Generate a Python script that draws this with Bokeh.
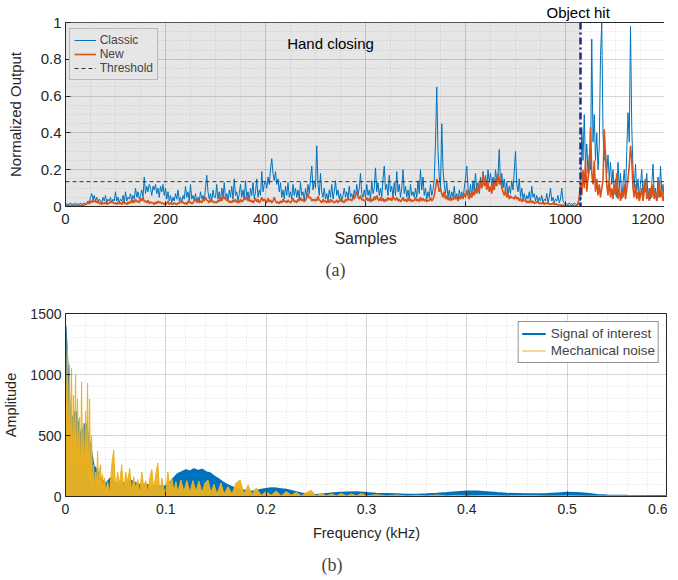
from bokeh.plotting import figure
from bokeh.layouts import column
from bokeh.models import (Span, Label, Legend, LegendItem, FixedTicker,
                          SingleIntervalTicker, NumeralTickFormatter, Range1d, Title)
from bokeh.embed import file_html
from bokeh.resources import INLINE

# ---------------- data: panel (a) ----------------
SAMPLE_STEP = 2.5
classic = [
    0.02, 0.01, 0.015, 0.01, 0.02, 0.01, 0.015, 0.01, 0.02, 0.01,
    0.015, 0.01, 0.02, 0.01, 0.015, 0.02, 0.01, 0.02, 0.03, 0.02,
    0.05, 0.07, 0.04, 0.06, 0.03, 0.05, 0.02, 0.04, 0.03, 0.02,
    0.05, 0.03, 0.06, 0.02, 0.04, 0.03, 0.05, 0.02, 0.04, 0.03,
    0.08, 0.03, 0.05, 0.02, 0.04, 0.03, 0.06, 0.02, 0.08, 0.03,
    0.05, 0.04, 0.07, 0.03, 0.06, 0.04, 0.10, 0.05, 0.08, 0.04,
    0.06, 0.09, 0.05, 0.16, 0.07, 0.11, 0.08, 0.12, 0.10, 0.06,
    0.11, 0.09, 0.12, 0.07, 0.10, 0.05, 0.11, 0.08, 0.12, 0.06,
    0.10, 0.04, 0.08, 0.03, 0.06, 0.02, 0.05, 0.03, 0.07, 0.04,
    0.09, 0.03, 0.05, 0.02, 0.06, 0.04, 0.11, 0.05, 0.08, 0.03,
    0.12, 0.04, 0.06, 0.03, 0.07, 0.02, 0.05, 0.03, 0.08, 0.04,
    0.06, 0.03, 0.10, 0.17, 0.08, 0.04, 0.07, 0.03, 0.09, 0.05,
    0.05, 0.12, 0.04, 0.08, 0.03, 0.10, 0.05, 0.13, 0.04, 0.07,
    0.03, 0.09, 0.05, 0.11, 0.04, 0.15, 0.06, 0.08, 0.03, 0.07,
    0.12, 0.05, 0.09, 0.04, 0.14, 0.05, 0.08, 0.03, 0.10, 0.06,
    0.13, 0.04, 0.08, 0.15, 0.05, 0.09, 0.06, 0.19, 0.08, 0.12,
    0.14, 0.10, 0.16, 0.12, 0.20, 0.26, 0.18, 0.14, 0.19, 0.12,
    0.15, 0.08, 0.13, 0.05, 0.09, 0.04, 0.11, 0.06, 0.13, 0.05,
    0.08, 0.04, 0.12, 0.06, 0.10, 0.05, 0.09, 0.04, 0.13, 0.06,
    0.08, 0.03, 0.10, 0.05, 0.12, 0.07, 0.15, 0.22, 0.09, 0.14,
    0.10, 0.33, 0.12, 0.06, 0.18, 0.08, 0.05, 0.10, 0.04, 0.07,
    0.03, 0.09, 0.05, 0.12, 0.04, 0.08, 0.14, 0.06, 0.09, 0.04,
    0.07, 0.03, 0.06, 0.10, 0.05, 0.08, 0.04, 0.11, 0.05, 0.07,
    0.04, 0.09, 0.05, 0.12, 0.06, 0.10, 0.18, 0.07, 0.05, 0.09,
    0.05, 0.12, 0.06, 0.09, 0.04, 0.14, 0.07, 0.10, 0.21, 0.08,
    0.13, 0.06, 0.10, 0.05, 0.15, 0.22, 0.09, 0.12, 0.06, 0.17,
    0.08, 0.11, 0.05, 0.13, 0.06, 0.19, 0.08, 0.12, 0.05, 0.10,
    0.20, 0.07, 0.11, 0.05, 0.09, 0.04, 0.12, 0.06, 0.08, 0.05,
    0.10, 0.05, 0.14, 0.07, 0.20, 0.09, 0.16, 0.06, 0.10, 0.04,
    0.08, 0.05, 0.12, 0.06, 0.09, 0.15, 0.35, 0.65, 0.30, 0.16,
    0.10, 0.45, 0.20, 0.12, 0.07, 0.13, 0.05, 0.09, 0.04, 0.08,
    0.05, 0.11, 0.04, 0.07, 0.03, 0.09, 0.05, 0.08, 0.04, 0.10,
    0.15, 0.22, 0.10, 0.06, 0.12, 0.05, 0.14, 0.08, 0.18, 0.09,
    0.13, 0.07, 0.16, 0.10, 0.19, 0.12, 0.17, 0.10, 0.20, 0.13,
    0.18, 0.11, 0.16, 0.09, 0.20, 0.14, 0.17, 0.31, 0.12, 0.18,
    0.10, 0.15, 0.08, 0.13, 0.06, 0.11, 0.07, 0.14, 0.09, 0.19,
    0.30, 0.12, 0.08, 0.15, 0.05, 0.10, 0.04, 0.07, 0.03, 0.06,
    0.04, 0.08, 0.03, 0.11, 0.05, 0.07, 0.03, 0.06, 0.02, 0.05,
    0.03, 0.06, 0.02, 0.04, 0.03, 0.07, 0.02, 0.05, 0.10, 0.03,
    0.05, 0.02, 0.04, 0.03, 0.06, 0.02, 0.04, 0.10, 0.03, 0.02,
    0.01, 0.015, 0.01, 0.02, 0.01, 0.015, 0.01, 0.02, 0.015, 0.01,
    0.02, 0.05, 0.03, 0.43, 0.25, 0.50, 0.22, 0.34, 0.18, 0.28,
    0.20, 0.91, 0.35, 0.50, 0.25, 0.40, 0.20, 0.33, 0.82, 1.00,
    0.40, 0.25, 0.30, 0.18, 0.28, 0.15, 0.24, 0.12, 0.20, 0.08,
    0.15, 0.05, 0.24, 0.10, 0.18, 0.04, 0.12, 0.20, 0.07, 0.30,
    0.51, 0.35, 0.98, 0.43, 0.20, 0.10, 0.23, 0.08, 0.15, 0.05,
    0.12, 0.20, 0.06, 0.14, 0.08, 0.18, 0.05, 0.10, 0.04, 0.12,
    0.23, 0.06, 0.10, 0.03, 0.16, 0.05, 0.22, 0.08, 0.12, 0.04,
    0.06,
]
new = [
    0.005, 0.004, 0.005, 0.004, 0.005, 0.006, 0.004, 0.005, 0.006, 0.005,
    0.005, 0.006, 0.005, 0.007, 0.006, 0.008, 0.01, 0.015, 0.02, 0.015,
    0.03, 0.02, 0.04, 0.025, 0.03, 0.02, 0.035, 0.015, 0.02, 0.01,
    0.02, 0.015, 0.025, 0.01, 0.02, 0.015, 0.03, 0.02, 0.025, 0.015,
    0.02, 0.01, 0.025, 0.015, 0.02, 0.01, 0.03, 0.015, 0.02, 0.01,
    0.025, 0.015, 0.03, 0.02, 0.035, 0.02, 0.04, 0.025, 0.03, 0.02,
    0.045, 0.03, 0.05, 0.025, 0.03, 0.02, 0.035, 0.015, 0.025, 0.02,
    0.02, 0.01, 0.025, 0.015, 0.03, 0.02, 0.025, 0.015, 0.02, 0.01,
    0.02, 0.015, 0.03, 0.01, 0.02, 0.015, 0.01, 0.02, 0.015, 0.01,
    0.02, 0.015, 0.03, 0.02, 0.025, 0.015, 0.02, 0.01, 0.03, 0.02,
    0.025, 0.015, 0.02, 0.03, 0.04, 0.025, 0.035, 0.02, 0.03, 0.02,
    0.04, 0.03, 0.05, 0.035, 0.03, 0.02, 0.04, 0.025, 0.03, 0.02,
    0.025, 0.02, 0.035, 0.025, 0.05, 0.03, 0.06, 0.04, 0.05, 0.03,
    0.04, 0.02, 0.03, 0.02, 0.035, 0.025, 0.04, 0.02, 0.03, 0.02,
    0.04, 0.025, 0.03, 0.05, 0.035, 0.06, 0.03, 0.04, 0.025, 0.035,
    0.02, 0.03, 0.045, 0.025, 0.04, 0.02, 0.03, 0.05, 0.03, 0.04,
    0.03, 0.02, 0.045, 0.025, 0.035, 0.02, 0.03, 0.05, 0.03, 0.02,
    0.025, 0.015, 0.03, 0.02, 0.04, 0.025, 0.03, 0.02, 0.035, 0.025,
    0.02, 0.03, 0.045, 0.025, 0.03, 0.02, 0.04, 0.03, 0.05, 0.03,
    0.04, 0.025, 0.035, 0.05, 0.07, 0.045, 0.05, 0.03, 0.04, 0.03,
    0.04, 0.03, 0.055, 0.035, 0.03, 0.02, 0.04, 0.025, 0.03, 0.02,
    0.035, 0.02, 0.04, 0.025, 0.03, 0.02, 0.025, 0.035, 0.02, 0.03,
    0.04, 0.025, 0.03, 0.02, 0.04, 0.03, 0.05, 0.035, 0.04, 0.03,
    0.05, 0.04, 0.065, 0.08, 0.05, 0.04, 0.06, 0.035, 0.04, 0.03,
    0.035, 0.05, 0.03, 0.045, 0.025, 0.04, 0.03, 0.055, 0.035, 0.06,
    0.04, 0.03, 0.05, 0.03, 0.045, 0.025, 0.04, 0.03, 0.05, 0.035,
    0.045, 0.03, 0.06, 0.04, 0.035, 0.05, 0.03, 0.04, 0.025, 0.035,
    0.05, 0.03, 0.04, 0.025, 0.045, 0.03, 0.04, 0.025, 0.035, 0.03,
    0.05, 0.03, 0.04, 0.025, 0.05, 0.03, 0.045, 0.03, 0.04, 0.025,
    0.035, 0.03, 0.05, 0.03, 0.04, 0.06, 0.10, 0.15, 0.12, 0.08,
    0.10, 0.07, 0.05, 0.08, 0.04, 0.06, 0.035, 0.05, 0.03, 0.045,
    0.035, 0.06, 0.04, 0.05, 0.03, 0.055, 0.04, 0.06, 0.045, 0.07,
    0.05, 0.09, 0.06, 0.04, 0.07, 0.05, 0.08, 0.06, 0.10, 0.07,
    0.12, 0.08, 0.14, 0.10, 0.18, 0.11, 0.15, 0.09, 0.13, 0.08,
    0.11, 0.07, 0.12, 0.09, 0.15, 0.11, 0.18, 0.12, 0.16, 0.10,
    0.08, 0.06, 0.09, 0.05, 0.07, 0.04, 0.06, 0.045, 0.05, 0.04,
    0.06, 0.04, 0.05, 0.03, 0.045, 0.025, 0.04, 0.03, 0.035, 0.02,
    0.03, 0.02, 0.035, 0.02, 0.03, 0.015, 0.025, 0.02, 0.03, 0.015,
    0.02, 0.015, 0.025, 0.01, 0.02, 0.015, 0.02, 0.01, 0.015, 0.01,
    0.02, 0.01, 0.015, 0.01, 0.01, 0.008, 0.01, 0.006, 0.008, 0.005,
    0.005, 0.004, 0.005, 0.004, 0.005, 0.004, 0.005, 0.004, 0.005, 0.006,
    0.01, 0.05, 0.13, 0.06, 0.20, 0.10, 0.25, 0.08, 0.15, 0.20,
    0.43, 0.18, 0.12, 0.25, 0.08, 0.15, 0.06, 0.12, 0.05, 0.10,
    0.14, 0.42, 0.27, 0.12, 0.06, 0.15, 0.05, 0.10, 0.04, 0.12,
    0.06, 0.18, 0.04, 0.10, 0.03, 0.08, 0.05, 0.12, 0.04, 0.09,
    0.15, 0.22, 0.33, 0.25, 0.10, 0.05, 0.12, 0.04, 0.08, 0.03,
    0.06, 0.10, 0.03, 0.08, 0.15, 0.04, 0.07, 0.03, 0.10, 0.05,
    0.12, 0.04, 0.08, 0.03, 0.06, 0.14, 0.05, 0.09, 0.03, 0.06,
    0.03,
]
samples_classic = [SAMPLE_STEP * i for i in range(len(classic))]
samples_new = [SAMPLE_STEP * i for i in range(len(new))]
THRESHOLD = 0.135
HIT_SAMPLE = 1030
SAMPLES_MAX = 1200
HAND_TEXT_X, HAND_TEXT_Y = 530, 0.885

# ---------------- data: panel (b) ----------------
noise_f = [0.000, 0.001, 0.002, 0.003, 0.004, 0.005, 0.006, 0.007, 0.008, 0.009,
           0.010, 0.011, 0.012, 0.013, 0.014, 0.015, 0.016, 0.017, 0.018, 0.019,
           0.020, 0.021, 0.022, 0.023, 0.024, 0.025, 0.026, 0.027, 0.028, 0.029,
           0.030, 0.031, 0.032, 0.033, 0.034, 0.035, 0.036, 0.037, 0.038, 0.039,
           0.040, 0.042, 0.044, 0.046, 0.048, 0.050, 0.052, 0.054, 0.056, 0.058,
           0.060, 0.062, 0.064, 0.066, 0.068, 0.070, 0.072, 0.074, 0.076, 0.078,
           0.080, 0.082, 0.084, 0.086, 0.088, 0.090, 0.092, 0.094, 0.096, 0.098,
           0.100, 0.102, 0.104, 0.106, 0.108, 0.110, 0.112, 0.115, 0.118, 0.121,
           0.124, 0.127, 0.130, 0.133, 0.136, 0.139, 0.142, 0.145, 0.148, 0.151,
           0.155, 0.158, 0.162, 0.166, 0.170, 0.174, 0.178, 0.182, 0.186, 0.190,
           0.195, 0.200, 0.205, 0.210, 0.215, 0.220, 0.225, 0.230, 0.235, 0.240,
           0.245, 0.250, 0.255, 0.260, 0.265, 0.270, 0.275, 0.280, 0.285, 0.290,
           0.295, 0.300, 0.31, 0.32, 0.33, 0.34, 0.35, 0.36, 0.37, 0.38,
           0.39, 0.40, 0.42, 0.44, 0.46, 0.48, 0.50, 0.52, 0.55, 0.58, 0.60]
noise_a = [1500, 600, 1210, 400, 1080, 300, 1050, 250, 830, 350,
           1000, 200, 800, 300, 650, 150, 940, 250, 600, 200,
           700, 300, 930, 150, 800, 100, 500, 80, 260, 60,
           200, 100, 370, 50, 220, 260, 40, 180, 60, 150,
           30, 120, 20, 250, 380, 60, 200, 100, 260, 40,
           200, 120, 230, 30, 160, 60, 140, 20, 200, 80,
           130, 30, 150, 220, 60, 180, 275, 20, 150, 60,
           30, 200, 80, 150, 40, 120, 30, 135, 40, 130,
           30, 130, 40, 125, 30, 110, 135, 30, 100, 20,
           110, 20, 80, 20, 110, 135, 20, 95, 15, 70,
           10, 40, 10, 45, 5, 40, 10, 35, 5, 30,
           50, 5, 25, 5, 20, 5, 25, 5, 20, 5,
           25, 5, 15, 5, 12, 5, 10, 5, 12, 5,
           10, 5, 8, 5, 8, 4, 6, 4, 5, 3, 2]
signal_f = [0.000, 0.005, 0.010, 0.015, 0.020, 0.025, 0.028, 0.030, 0.032, 0.035,
            0.040, 0.045, 0.050, 0.055, 0.060, 0.065, 0.070, 0.075, 0.080, 0.085,
            0.090, 0.095, 0.100, 0.104, 0.108, 0.112, 0.116, 0.120, 0.124, 0.128,
            0.132, 0.136, 0.140, 0.144, 0.148, 0.152, 0.156, 0.160, 0.165, 0.170,
            0.175, 0.180, 0.185, 0.190, 0.195, 0.200, 0.205, 0.210, 0.215, 0.220,
            0.225, 0.230, 0.235, 0.240, 0.250, 0.260, 0.270, 0.280, 0.290, 0.300,
            0.310, 0.320, 0.330, 0.340, 0.350, 0.360, 0.370, 0.380, 0.390, 0.400,
            0.410, 0.420, 0.430, 0.440, 0.450, 0.460, 0.470, 0.480, 0.490, 0.500,
            0.510, 0.520, 0.530, 0.540, 0.560, 0.580, 0.600]
signal_a = [1400, 600, 700, 500, 600, 400, 250, 230, 200, 150,
            100, 150, 100, 120, 100, 130, 110, 90, 100, 80,
            90, 80, 85, 110, 150, 185, 200, 215, 205, 225,
            210, 220, 200, 190, 165, 145, 120, 100, 80, 65,
            55, 45, 40, 45, 55, 62, 68, 65, 60, 55,
            45, 35, 25, 18, 12, 20, 28, 32, 35, 28,
            22, 20, 18, 15, 15, 18, 22, 28, 35, 42,
            40, 35, 28, 22, 20, 18, 18, 20, 25, 30,
            28, 22, 12, 8, 6, 5, 4]
FREQ_MAX = 0.6
AMP_MAX = 1500
FREQ_TICKS = [0, 0.1, 0.2, 0.3, 0.4, 0.5, 0.6]
FREQ_MINOR_STEP = 0.02

BLUE = "#0072BD"
ORANGE = "#D95319"
YELLOW = "#EDB120"
FONT = "Liberation Sans"
SERIF = "Liberation Serif"
AX_COLOR = "#262626"


def style(p, xt, yt, tick_size, fmt_x, fmt_y):
    p.xaxis.ticker = xt
    p.yaxis.ticker = yt
    p.xgrid.ticker = xt
    p.ygrid.ticker = yt
    if fmt_x:
        p.xaxis.formatter = NumeralTickFormatter(format="0.[0]")
    if fmt_y:
        p.yaxis.formatter = NumeralTickFormatter(format="0.[0]")
    for ax in (p.xaxis[0], p.yaxis[0]):
        ax.axis_line_color = AX_COLOR
        ax.major_tick_in = 5
        ax.major_tick_out = 0
        ax.minor_tick_in = 0
        ax.minor_tick_out = 0
        ax.major_tick_line_color = AX_COLOR
        ax.major_label_text_font = FONT
        ax.major_label_text_font_size = tick_size
        ax.major_label_text_color = AX_COLOR
        ax.axis_label_text_font = FONT
        ax.axis_label_text_font_style = "normal"
        ax.axis_label_text_color = AX_COLOR
    p.xaxis.major_label_standoff = 7
    p.yaxis.major_label_standoff = 4
    for g in (p.xgrid[0], p.ygrid[0]):
        g.grid_line_color = "black"
        g.grid_line_alpha = 0.12
        g.minor_grid_line_color = "black"
        g.minor_grid_line_alpha = 0.12
        g.minor_grid_line_dash = "1 2"
    p.outline_line_color = AX_COLOR
    p.background_fill_color = "white"
    p.border_fill_color = "white"


# ---------------- panel (a) ----------------
p1 = figure(frame_width=600, frame_height=184, x_range=Range1d(0, SAMPLES_MAX), y_range=Range1d(0, 1),
            output_backend="svg", toolbar_location=None,
            min_border_left=60, min_border_right=2, min_border_top=0, min_border_bottom=91)
style(p1, SingleIntervalTicker(interval=200, num_minor_ticks=4),
      SingleIntervalTicker(interval=0.2, num_minor_ticks=4), "15px", False, True)
p1.xaxis.axis_label = "Samples"
p1.xaxis.axis_label_text_font_size = "16px"
p1.xaxis.axis_label_standoff = 3
p1.yaxis.axis_label = "Normalized Output"
p1.yaxis.axis_label_text_font_size = "15px"
p1.yaxis.axis_label_standoff = 14

# "Object hit" caption sits just above the frame, over the hit marker
p1.title.text = "Object hit"
p1.title.align = "left"
p1.title.offset = 481
p1.title.standoff = 3
p1.title.text_font = FONT
p1.title.text_font_size = "15px"
p1.title.text_font_style = "normal"
p1.title.text_color = "black"

p1.quad(left=[0], right=[HIT_SAMPLE], bottom=[0], top=[1], fill_color="#e6e6e6",
        line_color=None, level="image")
r_classic = p1.line(samples_classic, classic, line_color=BLUE, line_width=1)
r_new = p1.line(samples_new, new, line_color=ORANGE, line_width=1.6)
r_thr = p1.line([0, SAMPLES_MAX], [THRESHOLD, THRESHOLD], line_color="#333333", line_width=1,
                line_dash="4 3")
p1.add_layout(Span(location=HIT_SAMPLE, dimension="height", line_color="#1f2a8a",
                   line_width=2.5, line_dash="7 3 2 3"))
p1.add_layout(Label(x=HAND_TEXT_X, y=HAND_TEXT_Y, text="Hand closing", text_align="center",
                    text_baseline="middle", text_font=FONT, text_font_size="15px",
                    text_color="black"))
leg1 = Legend(items=[LegendItem(label="Classic", renderers=[r_classic]),
                     LegendItem(label="New", renderers=[r_new]),
                     LegendItem(label="Threshold", renderers=[r_thr])],
              location="top_left", margin=6, padding=4, spacing=0,
              glyph_width=22, glyph_height=14, label_standoff=4,
              label_text_font=FONT, label_text_font_size="12px",
              label_height=14, background_fill_color="#e6e6e6", background_fill_alpha=1,
              border_line_color="#8c8c8c", border_line_width=1)
p1.add_layout(leg1)
p1.add_layout(Title(text="(a)", align="left", offset=260, text_font=SERIF,
                    text_font_size="18px", text_font_style="normal", standoff=16), "below")

# ---------------- panel (b) ----------------
freq_minor = [round(FREQ_MINOR_STEP * i, 3) for i in range(int(round(FREQ_MAX / FREQ_MINOR_STEP)) + 1)]
p2 = figure(frame_width=602, frame_height=183, x_range=Range1d(0, FREQ_MAX), y_range=Range1d(0, AMP_MAX),
            output_backend="svg", toolbar_location=None,
            min_border_left=60, min_border_right=0, min_border_top=16, min_border_bottom=60)
style(p2, FixedTicker(ticks=FREQ_TICKS, minor_ticks=freq_minor),
      SingleIntervalTicker(interval=500, num_minor_ticks=5), "14px", True, False)
p2.xaxis.axis_label = "Frequency (kHz)"
p2.xaxis.axis_label_text_font_size = "14.5px"
p2.xaxis.axis_label_standoff = 8
p2.yaxis.axis_label = "Amplitude"
p2.yaxis.axis_label_text_font_size = "14.5px"
p2.yaxis.axis_label_standoff = 8

p2.varea(x=signal_f, y1=0, y2=signal_a, fill_color=BLUE)
r_sig = p2.line(signal_f, signal_a, line_color=BLUE, line_width=2)
p2.varea(x=noise_f, y1=0, y2=noise_a, fill_color=YELLOW, fill_alpha=0.95)
r_noise = p2.line(noise_f, noise_a, line_color=YELLOW, line_width=1)
leg2 = Legend(items=[LegendItem(label="Signal of interest", renderers=[r_sig]),
                     LegendItem(label="Mechanical noise", renderers=[r_noise])],
              location="top_right", margin=8, padding=3, spacing=0,
              glyph_width=24, glyph_height=17, label_standoff=5,
              label_text_font=FONT, label_text_font_size="13.5px", label_height=17,
              background_fill_color="white", border_line_color=AX_COLOR, border_line_width=1)
p2.add_layout(leg2)
p2.add_layout(Title(text="(b)", align="left", offset=256, text_font=SERIF,
                    text_font_size="18px", text_font_style="normal", standoff=19), "below")

layout = column(p1, p2, spacing=0)
open("out.html", "w").write(file_html(layout, INLINE))
